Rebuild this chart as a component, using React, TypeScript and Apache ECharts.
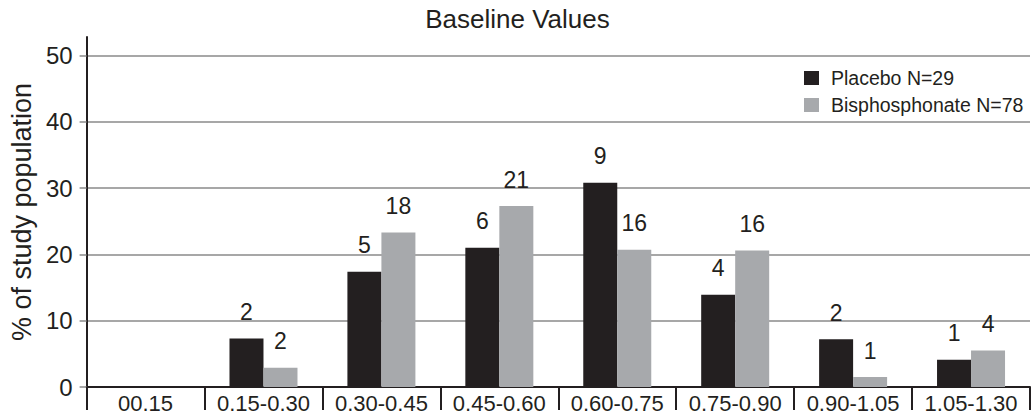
import React, { useEffect, useRef } from "react";
import * as echarts from "echarts";

const categories = ["00.15", "0.15-0.30", "0.30-0.45", "0.45-0.60", "0.60-0.75", "0.75-0.90", "0.90-1.05", "1.05-1.30"];
const placeboPct = [0, 7.3, 17.4, 21.0, 30.8, 13.9, 7.2, 4.1];
const bisphosPct = [0, 2.9, 23.3, 27.3, 20.7, 20.6, 1.5, 5.5];
const placeboN = [null, 2, 5, 6, 9, 4, 2, 1];
const bisphosN = [null, 2, 18, 21, 16, 16, 1, 4];
const yTicks = [0, 10, 20, 30, 40, 50];

const FONT = "'Liberation Sans', Arial, Helvetica, sans-serif";
const INK = "#231f20";
const GRID = "#8a8a8a";

export default function App() {
  const ref = useRef<HTMLDivElement>(null);
  useEffect(() => {
    if (!ref.current) return;
    const chart = echarts.init(ref.current, undefined, { renderer: "svg" });
    const labelFmt = (counts: (number | null)[]) => (p: any) =>
      counts[p.dataIndex] == null ? "" : String(counts[p.dataIndex]);
    chart.setOption({
      animation: false,
      backgroundColor: "#ffffff",
      textStyle: { fontFamily: FONT, color: INK },
      title: {
        text: "Baseline Values",
        left: "center",
        top: 1,
        textStyle: { fontFamily: FONT, fontSize: 26, fontWeight: "normal", color: INK },
      },
      legend: {
        orient: "vertical",
        left: 799,
        top: 63,
        itemWidth: 15,
        itemHeight: 14,
        itemGap: 7,
        icon: "rect",
        textStyle: { fontFamily: FONT, fontSize: 19.5, color: INK, padding: [0, 0, 0, 7] },
        data: ["Placebo N=29", "Bisphosphonate N=78"],
      },
      grid: { left: 80, right: 5, top: 37, bottom: 33, containLabel: false },
      xAxis: {
        type: "category",
        data: categories,
        boundaryGap: true,
        axisLine: { show: true, lineStyle: { color: INK, width: 2 } },
        axisTick: { show: true, interval: 0, length: 23, lineStyle: { color: INK, width: 2 } },
        axisLabel: { interval: 0, fontFamily: FONT, fontSize: 22, color: INK, margin: 5 },
        splitLine: { show: false },
      },
      yAxis: {
        type: "value",
        min: 0,
        max: 52.8,
        interval: 10,
        name: "% of study population",
        nameLocation: "middle",
        nameGap: 50,
        nameTextStyle: { fontFamily: FONT, fontSize: 27, color: INK },
        axisLine: { show: true, lineStyle: { color: INK, width: 2 } },
        axisTick: { show: true, length: 7, customValues: yTicks, lineStyle: { color: GRID, width: 1.5 } },
        axisLabel: { fontFamily: FONT, fontSize: 24, color: INK, margin: 14, customValues: yTicks },
        splitLine: { show: true, lineStyle: { color: GRID, width: 1.5 } },
      },
      series: [
        {
          name: "Placebo N=29",
          type: "bar",
          data: placeboPct,
          barWidth: 34,
          barGap: "0%",
          itemStyle: { color: INK },
          label: {
            show: true,
            position: "top",
            distance: 15,
            fontFamily: FONT,
            fontSize: 23,
            color: INK,
            formatter: labelFmt(placeboN),
          },
        },
        {
          name: "Bisphosphonate N=78",
          type: "bar",
          data: bisphosPct,
          barWidth: 34,
          barGap: "0%",
          itemStyle: { color: "#a7a9ac" },
          label: {
            show: true,
            position: "top",
            distance: 15,
            fontFamily: FONT,
            fontSize: 23,
            color: INK,
            formatter: labelFmt(bisphosN),
          },
        },
      ],
    });
    return () => chart.dispose();
  }, []);
  return (
    <div
      ref={ref}
      style={{ position: "fixed", left: 0, top: 0, width: 1035, height: 420, background: "#fff" }}
    />
  );
}
